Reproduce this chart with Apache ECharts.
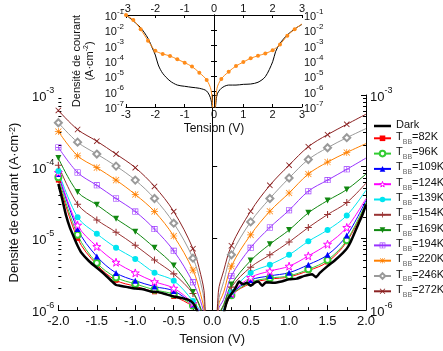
<!DOCTYPE html>
<html><head><meta charset="utf-8">
<script src="https://cdn.jsdelivr.net/npm/echarts@6/dist/echarts.min.js"></script>
<style>html,body{margin:0;padding:0;background:#fff}#c{width:443px;height:351px}</style>
</head><body><div id="c"></div>
<script>
// ---------- DATA ----------
// Main chart: voltage points (markers drawn at multiples of 0.25 V)
const V_MAIN = [-2,-1.75,-1.5,-1.25,-1,-0.75,-0.5,-0.25,-0.15,-0.1,-0.02,0.08,0.15,0.25,0.5,0.75,1,1.25,1.5,1.75,2];
const LEGEND_T = ['82K','96K','109K','124K','139K','154K','169K','194K','220K','246K','272K'];
const J_082 = [6.5e-5,1.0e-5,4.3e-6,2.6e-6,2.15e-6,1.8e-6,1.55e-6,1.12e-6,8.3e-7,4.5e-7,1e-8,5e-7,9.1e-7,1.6e-6,2.35e-6,2.7e-6,2.9e-6,3.55e-6,4.7e-6,9.0e-6,3.0e-5];
const J_096 = [7.1e-5,1.12e-5,4.55e-6,2.85e-6,2.32e-6,1.92e-6,1.66e-6,1.16e-6,8.5e-7,4.5e-7,1e-8,5e-7,9.3e-7,1.61e-6,2.44e-6,2.79e-6,3.0e-6,3.7e-6,5.0e-6,9.4e-6,3.16e-5];
const J_109 = [7.9e-5,1.35e-5,5.6e-6,3.3e-6,2.57e-6,2.13e-6,1.85e-6,1.2e-6,8.7e-7,4.5e-7,1e-8,5e-7,9.5e-7,1.66e-6,2.62e-6,3.0e-6,3.33e-6,4.3e-6,5.9e-6,1.1e-5,3.4e-5];
const J_124 = [8.3e-5,1.53e-5,7.7e-6,4.65e-6,3.3e-6,2.49e-6,2.02e-6,1.24e-6,8.9e-7,4.5e-7,1e-8,5.6e-7,1e-6,1.7e-6,2.85e-6,3.5e-6,4.1e-6,5.7e-6,8.3e-6,1.42e-5,3.6e-5];
const J_139 = [8.7e-5,1.98e-5,1.16e-5,7.4e-6,5.15e-6,3.33e-6,2.57e-6,1.34e-6,9.3e-7,5.0e-7,1e-8,6.3e-7,1.05e-6,1.79e-6,3.33e-6,4.3e-6,5.9e-6,9.1e-6,1.31e-5,2.09e-5,4.7e-5];
const J_154 = [1.05e-4,3.0e-5,1.81e-5,1.22e-5,8.0e-6,5.0e-6,3.2e-6,1.7e-6,1.02e-6,6.0e-7,1e-8,7.9e-7,1.15e-6,2.09e-6,3.97e-6,5.9e-6,8.9e-6,1.42e-5,2.15e-5,3.16e-5,5.9e-5];
const J_169 = [1.32e-4,4.45e-5,2.94e-5,1.88e-5,1.24e-5,7.4e-6,4.2e-6,1.79e-6,1.07e-6,6.3e-7,1e-8,7.9e-7,1.2e-6,2.27e-6,4.9e-6,8.3e-6,1.31e-5,2.27e-5,3.37e-5,4.8e-5,7.9e-5];
const J_194 = [1.86e-4,8.3e-5,5.5e-5,3.6e-5,2.37e-5,1.35e-5,6.7e-6,2.44e-6,1.32e-6,7.6e-7,1e-8,1e-6,1.41e-6,3.0e-6,7.4e-6,1.42e-5,2.47e-5,4.55e-5,6.5e-5,9.2e-5,1.32e-4];
const J_220 = [3.1e-4,1.42e-4,9.7e-5,6.5e-5,4.1e-5,2.37e-5,1.08e-5,3.6e-6,1.66e-6,8.9e-7,1e-8,1.12e-6,1.78e-6,4.1e-6,1.12e-5,2.39e-5,4.3e-5,7.9e-5,1.16e-4,1.58e-4,2.1e-4];
const J_246 = [4.1e-4,2.2e-4,1.5e-4,1.02e-4,6.5e-5,3.6e-5,1.63e-5,5.3e-6,2.4e-6,1.2e-6,1e-8,1.26e-6,2.5e-6,5.9e-6,1.7e-5,3.6e-5,6.95e-5,1.26e-4,1.84e-4,2.54e-4,3.4e-4];
const J_272 = [6.1e-4,3.3e-4,2.27e-4,1.5e-4,9.7e-5,5.3e-5,2.37e-5,7.2e-6,3.16e-6,1.58e-6,1e-8,1.78e-6,3.55e-6,7.9e-6,2.39e-5,5.5e-5,1.05e-4,1.9e-4,2.8e-4,3.9e-4,5.4e-4];
// Dark current (main chart)
const V_DARK = [-2,-1.95,-1.9,-1.85,-1.8,-1.75,-1.7,-1.6,-1.5,-1.4,-1.3,-1.25,-1.2,-1.1,-1,-0.9,-0.8,-0.7,-0.6,-0.5,-0.4,-0.3,-0.25,-0.2,-0.15,-0.1,-0.02,0.1,0.15,0.2,0.3,0.35,0.4,0.45,0.5,0.55,0.6,0.65,0.7,0.8,0.9,1,1.1,1.2,1.3,1.35,1.4,1.5,1.6,1.7,1.75,1.8,1.9,1.95,2];
const J_DARK = [5.75e-5,3.55e-5,2.09e-5,1.41e-5,1.05e-5,7.9e-6,6.3e-6,4.8e-6,3.9e-6,3.16e-6,2.5e-6,2.24e-6,2.19e-6,2.09e-6,2.0e-6,1.95e-6,1.82e-6,1.78e-6,1.66e-6,1.55e-6,1.48e-6,1.38e-6,1.26e-6,1.0e-6,6.3e-7,3.2e-7,1e-8,3.2e-7,8.9e-7,1.41e-6,2.0e-6,2.5e-6,2.29e-6,2.4e-6,2.19e-6,2.4e-6,2.5e-6,2.19e-6,2.45e-6,2.4e-6,2.5e-6,2.69e-6,2.75e-6,3.0e-6,3.16e-6,2.88e-6,3.3e-6,4.1e-6,5.0e-6,6.3e-6,7.2e-6,8.9e-6,1.58e-5,2.09e-5,2.95e-5];
// Inset
const V_INSET = [-3,-2.75,-2.5,-2.25,-2,-1.75,-1.5,-1.25,-1,-0.75,-0.5,-0.25,-0.1,0,0.1,0.25,0.5,0.75,1,1.25,1.5,1.75,2,2.25,2.5,2.75,3];
const J_INSET_220 = [1e-1,4.7e-2,1.17e-2,2.1e-3,4.7e-4,2.9e-4,2.14e-4,1.29e-4,7.8e-5,4.3e-5,1.74e-5,5.8e-6,1.26e-6,1e-8,1.58e-6,6.8e-6,2.0e-5,4.7e-5,8.5e-5,1.51e-4,2.19e-4,3.1e-4,5.0e-4,1.2e-3,4.5e-3,1.17e-2,2.6e-2];
const V_INSET_DARK = [-3,-2.75,-2.5,-2.25,-2.1,-2,-1.9,-1.75,-1.5,-1.25,-1,-0.75,-0.5,-0.25,-0.1,0,0.1,0.25,0.5,0.75,1,1.25,1.5,1.75,2,2.1,2.25,2.5,2.75,3];
const J_INSET_DARK = [1e-1,4.1e-2,1.48e-2,3.0e-3,6.8e-4,2.45e-4,5.5e-5,1.58e-5,5.0e-6,2.69e-6,2.24e-6,1.91e-6,1.66e-6,1.1e-6,2.9e-7,1e-8,6.0e-7,1.66e-6,2.69e-6,2.69e-6,3.0e-6,3.16e-6,4.1e-6,9.5e-6,8.9e-5,4.1e-4,1.41e-3,5.0e-3,1.23e-2,2.45e-2];
const X_TICKS_MAIN = [-2,2,0.5];
const X_TICKS_INSET = [-3,3,1];

// ---------- STYLE ----------
const FONT = 'Liberation Sans';
const PLUS = 'path://M8.5,0L11.5,0L11.5,20L8.5,20ZM0,8.5L20,8.5L20,11.5L0,11.5Z';
const CROSS = 'path://M2,0L20,18L18,20L0,2ZM18,0L20,2L2,20L0,18Z';
const AST = 'path://M9,0L11,0L11,20L9,20ZM0,9L20,9L20,11L0,11ZM2,0.6L19.4,18L18,19.4L0.6,2ZM18,0.6L19.4,2L2,19.4L0.6,18Z';
const STAR = 'path://M50,0L61,35L98,35L68,57L79,91L50,70L21,91L32,57L2,35L39,35Z';
const SQPLUS = 'path://M0,0L20,0L20,20L0,20ZM2,2L2,9L9,9L9,2ZM11,2L11,9L18,9L18,2ZM2,11L2,18L9,18L9,11ZM11,11L11,18L18,18L18,11Z';
const DARKICON = 'path://M0,0L34,0L34,5L0,5Z';
const STY = [
  {c:'#FF0000', s:'rect', z:5},
  {c:'#33CC33', s:'emptyCircle', z:6},
  {c:'#0000FF', s:'triangle', z:6},
  {c:'#FF00FF', s:STAR, z:8, hollow:true},
  {c:'#00E5F0', s:'circle', z:6},
  {c:'#993333', s:PLUS, z:7},
  {c:'#118811', s:'triangle', z:6, rot:180},
  {c:'#9933FF', s:SQPLUS, z:6},
  {c:'#FF8000', s:AST, z:7},
  {c:'#9A9A9A', s:'emptyDiamond', z:7},
  {c:'#8B2222', s:CROSS, z:6}
];
const CURVES = [J_082,J_096,J_109,J_124,J_139,J_154,J_169,J_194,J_220,J_246,J_272];

function isMark(v, lim){ return Math.abs(v*4-Math.round(v*4))<1e-9 && Math.abs(v)>1e-9 && v<lim-1e-9 && v>-lim-1e-9; }
function pts(xs, ys, lim){ return xs.map((x,i)=>{ const it={value:[x,ys[i]]}; if(lim===null || !isMark(x,lim)) it.symbol='none'; return it; }); }
function expFmt(v){ const e=Math.round(Math.log10(v)); return '{b|10}{s|'+e+'}'; }
const richMain = {b:{fontSize:13,fontFamily:FONT,color:'#111',lineHeight:18,verticalAlign:'bottom'}, s:{fontSize:9,fontFamily:FONT,color:'#111',lineHeight:10,verticalAlign:'top'}};
const richInset = {b:{fontSize:11,fontFamily:FONT,color:'#111',lineHeight:15,verticalAlign:'bottom'}, s:{fontSize:8,fontFamily:FONT,color:'#111',lineHeight:8,verticalAlign:'top'}};
function minorVals(d0,d1){ const a=[]; for(let d=d0; d<d1; d++){ for(let m=2;m<=9;m++) a.push(m*Math.pow(10,d)); } return a; }

const series = [];
LEGEND_T.forEach((t,k)=>{
  const st=STY[k];
  series.push({
    name:'T_BB='+t, type:'line', xAxisIndex:0, yAxisIndex:0,
    data: pts(V_MAIN, CURVES[k], 2),
    smooth:0.35, symbol:st.s, symbolSize:st.z, symbolRotate:st.rot||0, showAllSymbol:true,
    lineStyle:{color:st.c, width:1},
    itemStyle: st.hollow ? {color:'#fff', borderColor:st.c, borderWidth:1} : (st.s.indexOf('empty')===0 ? {color:st.c, borderWidth:1} : {color:st.c, borderWidth:0}),
    emphasis:{disabled:true}, z:3
  });
});
series.push({
  name:'Dark', type:'line', xAxisIndex:0, yAxisIndex:0,
  data: pts(V_DARK, J_DARK, null), smooth:0.15, symbol:'none',
  lineStyle:{color:'#000', width:2.5}, itemStyle:{color:'#000'}, emphasis:{disabled:true}, z:4
});
series.push({
  name:'insetDark', type:'line', xAxisIndex:1, yAxisIndex:4,
  data: pts(V_INSET_DARK, J_INSET_DARK, null), smooth:0.3, symbol:'none',
  lineStyle:{color:'#000', width:1}, itemStyle:{color:'#000'}, emphasis:{disabled:true}
});
series.push({
  name:'inset220', type:'line', xAxisIndex:1, yAxisIndex:4,
  data: pts(V_INSET, J_INSET_220, 3), smooth:0.3, symbol:'circle', symbolSize:4, showAllSymbol:true,
  lineStyle:{color:'#FF8C1A', width:1}, itemStyle:{color:'#FF8C1A', borderWidth:0}, emphasis:{disabled:true}
});

const legendData = [{name:'Dark', icon:DARKICON, itemStyle:{color:'#000'}}].concat(LEGEND_T.map((t,k)=>{
  const it={name:'T_BB='+t};
  if(STY[k].hollow) it.itemStyle={color:'#fff', borderColor:STY[k].c, borderWidth:1};
  return it;
}));

const axLine = {show:true, lineStyle:{color:'#000', width:1}};
const opt = {
  animation:false,
  textStyle:{fontFamily:FONT},
  grid:[
    {left:52, top:95, width:314, height:222},
    {left:126, top:15, width:176, height:92}
  ],
  legend:{
    data:legendData,
    orient:'vertical', left:368, top:114, itemWidth:17, itemHeight:7, itemGap:1.3,
    formatter:function(n){ if(n==='Dark') return '{n|Dark}'; return '{n|T}{u|BB}{n|'+n.slice(4)+'}'; },
    textStyle:{fontFamily:FONT, fontSize:11, color:'#111',
      rich:{n:{fontSize:11,fontFamily:FONT,color:'#111',lineHeight:14,verticalAlign:'top'}, u:{fontSize:7,fontFamily:FONT,color:'#666',lineHeight:8,verticalAlign:'bottom'}}},
    selectedMode:false
  },
  xAxis:[
    {gridIndex:0, type:'value', min:X_TICKS_MAIN[0], max:X_TICKS_MAIN[1], interval:X_TICKS_MAIN[2], position:'bottom',
     axisLine:axLine, axisTick:{inside:true, length:5, lineStyle:{color:'#000'}},
     minorTick:{show:true, splitNumber:2, length:3, lineStyle:{color:'#000'}},
     splitLine:{show:false},
     axisLabel:{formatter:v=>v.toFixed(1), fontSize:13, color:'#111', margin:5, fontFamily:FONT},
     name:'Tension (V)', nameLocation:'middle', nameGap:22, nameTextStyle:{fontSize:13, color:'#111', fontFamily:FONT}},
    {gridIndex:1, type:'value', min:X_TICKS_INSET[0], max:X_TICKS_INSET[1], interval:X_TICKS_INSET[2], position:'bottom',
     axisLine:axLine, axisTick:{inside:true, length:3, lineStyle:{color:'#000'}}, splitLine:{show:false},
     axisLabel:{fontSize:11, color:'#111', margin:2, fontFamily:FONT},
     name:'Tension (V)', nameLocation:'middle', nameGap:16, nameTextStyle:{fontSize:12, color:'#111', fontFamily:FONT}},
    {gridIndex:1, type:'value', min:X_TICKS_INSET[0], max:X_TICKS_INSET[1], interval:X_TICKS_INSET[2], position:'top',
     axisLine:axLine, axisTick:{inside:true, length:3, lineStyle:{color:'#000'}}, splitLine:{show:false},
     axisLabel:{fontSize:11, color:'#111', margin:1, fontFamily:FONT}}
  ],
  yAxis:[
    {gridIndex:0, type:'log', logBase:10, min:1e-6, max:1e-3, interval:1, position:'left',
     axisLine:axLine, axisTick:{inside:true, length:5, lineStyle:{color:'#000'}}, splitLine:{show:false},
     axisLabel:{formatter:expFmt, rich:richMain, margin:4},
     name:'Densité de courant (A·cm{s|-2})', nameLocation:'middle', nameGap:31, nameRotate:90,
     nameTextStyle:{fontSize:13, color:'#111', fontFamily:FONT, rich:{s:{fontSize:9,fontFamily:FONT,color:'#111',verticalAlign:'top',lineHeight:9}}}},
    {gridIndex:0, type:'log', logBase:10, min:1e-6, max:1e-3, interval:1, position:'left',
     axisLine:{show:false}, axisLabel:{show:false}, splitLine:{show:false},
     axisTick:{inside:true, length:3, lineStyle:{color:'#000'}, customValues:minorVals(-6,-3)}},
    {gridIndex:0, type:'log', logBase:10, min:1e-6, max:1e-3, interval:1, position:'right',
     axisLine:axLine, axisTick:{inside:true, length:5, lineStyle:{color:'#000'}}, splitLine:{show:false},
     axisLabel:{formatter:v=>{const e=Math.round(Math.log10(v)); return (e===-3||e===-6)?expFmt(v):'';}, rich:richMain, margin:4}},
    {gridIndex:0, type:'log', logBase:10, min:1e-6, max:1e-3, interval:1, position:'right',
     axisLine:{show:false}, axisLabel:{show:false}, splitLine:{show:false},
     axisTick:{inside:true, length:3, lineStyle:{color:'#000'}, customValues:minorVals(-6,-3)}},
    {gridIndex:1, type:'log', logBase:10, min:1e-7, max:1e-1, interval:1, position:'left',
     axisLine:axLine, axisTick:{inside:true, length:3, lineStyle:{color:'#000'}}, splitLine:{show:false},
     axisLabel:{formatter:expFmt, rich:richInset, margin:2},
     name:'Densité de courant\n(A·cm{s|-2})', nameLocation:'middle', nameGap:30, nameRotate:90,
     nameTextStyle:{fontSize:11, color:'#111', fontFamily:FONT, lineHeight:13, rich:{s:{fontSize:7,fontFamily:FONT,color:'#111',verticalAlign:'top',lineHeight:7}}}},
    {gridIndex:1, type:'log', logBase:10, min:1e-7, max:1e-1, interval:1, position:'right',
     axisLine:axLine, axisTick:{inside:true, length:3, lineStyle:{color:'#000'}}, splitLine:{show:false},
     axisLabel:{formatter:expFmt, rich:richInset, margin:2}}
  ],
  series: series
};
const chart = echarts.init(document.getElementById('c'), null, {renderer:'canvas'});
chart.setOption(opt);
</script></body></html>
